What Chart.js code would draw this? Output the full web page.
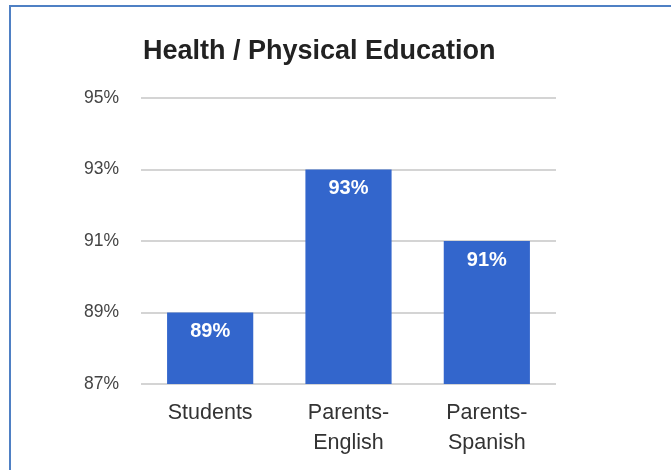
<!DOCTYPE html>
<html>
<head>
<meta charset="utf-8">
<script src="https://cdn.jsdelivr.net/npm/chart.js@4/dist/chart.umd.min.js"></script>
<style>
  body { margin: 0; background: #fff; overflow: hidden; }
  #frame {
    position: absolute; left: 9px; top: 5px; width: 700px; height: 500px;
    border-top: 2px solid #4f80c4; border-left: 2px solid #4f80c4;
  }
  #grafica { position: absolute; left: 0; top: 0; }
</style>
</head>
<body>
<div id="frame"></div>
<canvas id="grafica" width="671" height="470"></canvas>
<script>
// datos
const categorias = [["Students"], ["Parents-", "English"], ["Parents-", "Spanish"]];
const valores = [89, 93, 91];
const ticksY = [87, 89, 91, 93, 95];
const titulo = "Health / Physical Education";

const fuente = "'Liberation Sans', Arial, sans-serif";

// titulo alineado con el area del grafico
const pluginTitulo = {
  id: "tituloIzq",
  afterDraw(chart) {
    const ctx = chart.ctx;
    ctx.save();
    ctx.font = "bold 27px " + fuente;
    ctx.fillStyle = "#222";
    ctx.textAlign = "left";
    ctx.textBaseline = "middle";
    ctx.fillText(titulo, chart.chartArea.left + 2, 52);
    ctx.restore();
  }
};

// etiquetas blancas dentro de cada barra
const pluginValores = {
  id: "valoresBarras",
  afterDatasetsDraw(chart) {
    const ctx = chart.ctx;
    const meta = chart.getDatasetMeta(0);
    ctx.save();
    ctx.font = "bold 20px " + fuente;
    ctx.fillStyle = "#fff";
    ctx.textAlign = "center";
    ctx.textBaseline = "middle";
    meta.data.forEach(function (barra, i) {
      ctx.fillText(valores[i] + "%", barra.x, barra.y + 19);
    });
    ctx.restore();
  }
};

const config = {
  type: "bar",
  data: {
    labels: categorias,
    datasets: [{
      data: valores,
      backgroundColor: "#3366cc",
      barPercentage: 0.623,
      categoryPercentage: 1
    }]
  },
  options: {
    responsive: false,
    animation: false,
    devicePixelRatio: 1,
    layout: { padding: { top: 98, right: 115, bottom: 0, left: 0 } },
    plugins: {
      legend: { display: false },
      tooltip: { enabled: false },
      title: { display: false }
    },
    scales: {
      x: {
        grid: { display: false },
        border: { display: false },
        ticks: {
          color: "#333",
          padding: 6,
          maxRotation: 0,
          font: { family: fuente, size: 21.5, lineHeight: 1.4 }
        },
        afterFit(scale) { scale.height = 86; }
      },
      y: {
        min: 87,
        max: 95,
        afterBuildTicks(scale) {
          scale.ticks = ticksY.map(v => ({ value: v }));
        },
        grid: { color: "#d4d4d4", lineWidth: 2, drawTicks: false },
        border: { display: false },
        ticks: {
          color: "#444",
          padding: 22,
          font: { family: fuente, size: 17.5 },
          callback: v => v + "%"
        },
        afterFit(scale) { scale.width = 141; }
      }
    }
  },
  plugins: [pluginTitulo, pluginValores]
};

new Chart(document.getElementById("grafica"), config);
</script>
</body>
</html>
